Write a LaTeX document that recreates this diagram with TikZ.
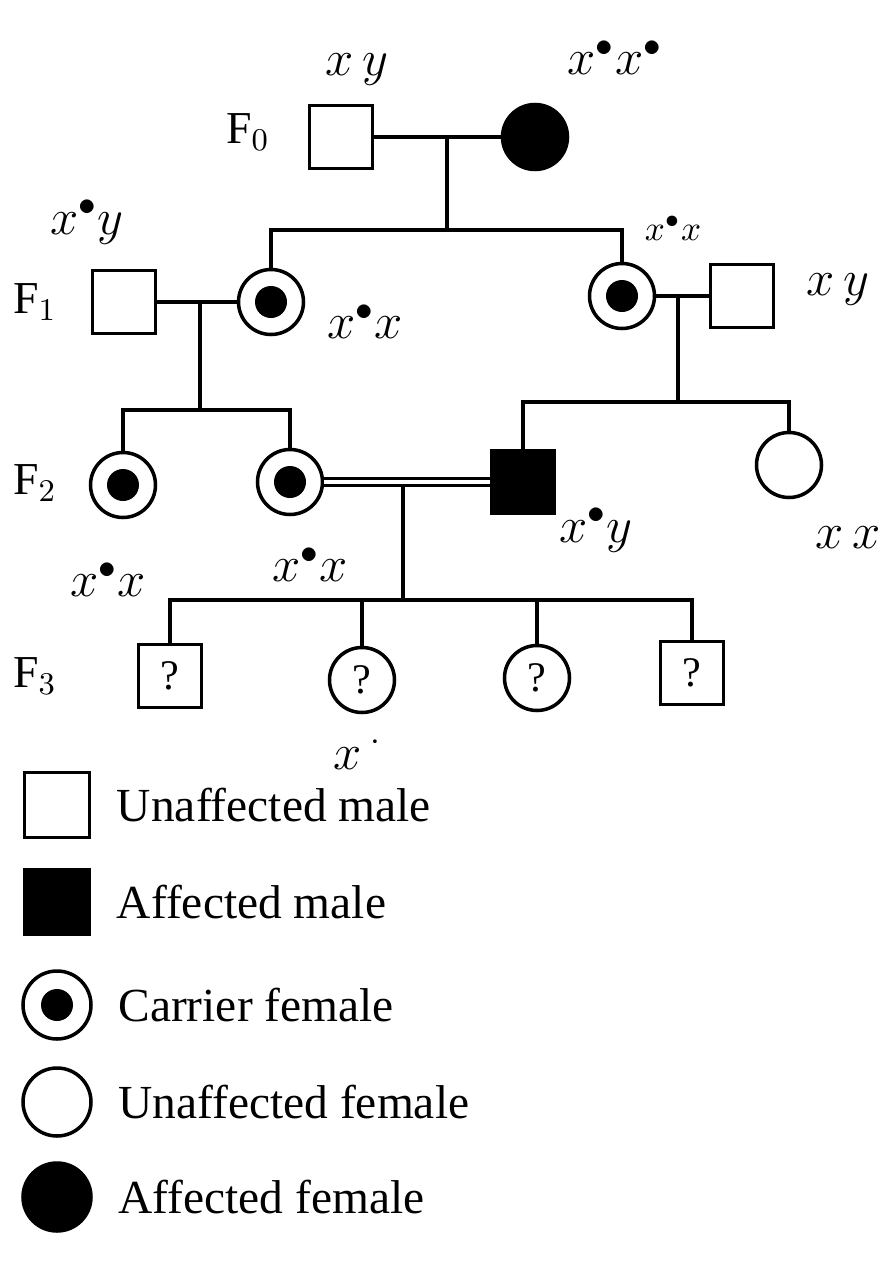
\documentclass[tikz,border=0pt]{standalone}
\usepackage{fontspec}
\setmainfont{Liberation Serif}
\usetikzlibrary{positioning}

\tikzset{
    male/.style={draw, line width=1pt, minimum size=6.3mm, inner sep=0pt, font=\large},
    female/.style={circle, draw, line width=1pt, minimum size=6.5mm, inner sep=0pt, font=\large},
    affected/.style={fill=black},
    carrier/.style={female, path picture={\fill (path picture bounding box.center) circle (1.6mm);}},
    link/.style={line width=1pt},
    coppia/.style={line width=0.8pt, double, double distance=0.45mm},
    gen/.style={font=\fontsize{13}{15}\selectfont},
    geno/.style={font=\Large, inner sep=0pt},
    voce/.style={right=2.5mm, font=\fontsize{13.5}{16}\selectfont, inner sep=0pt},
}

\begin{document}
\begin{tikzpicture}[x=0.1mm, y=-0.1mm]

        \useasboundingbox (0,0) rectangle (895,1263);

        % ==========================================
        % GENERAZIONE F0
        % ==========================================
        \node[gen] (g0) at (248,132) {F$_0$};
        \node[male] (f0m) at (341,137) {};
        \node[female, affected] (f0f) at (535,137) {};
        \coordinate (f0mid) at (447,137);
        \coordinate (f0drop) at (447,230);

        \draw[link] (f0m) -- (f0f);
        \draw[link] (f0mid) -- (f0drop);

        % ==========================================
        % GENERAZIONE F1
        % ==========================================
        \node[gen] (g1) at (35,302) {F$_1$};
        \node[male] (f1h1) at (124,302) {};
        \node[carrier] (f1a) at (271,302) {};
        \node[carrier] (f1b) at (622,296) {};
        \node[male] (f1h2) at (742,296) {};

        % fratelli di F1
        \draw[link] (f1a.north) |- (f0drop) -| (f1b.north);

        % coppie di F1
        \coordinate (f1lmid) at (200,302);
        \coordinate (f1ldrop) at (200,410);
        \coordinate (f1rmid) at (678,296);
        \coordinate (f1rdrop) at (678,402);
        \draw[link] (f1h1) -- (f1a);
        \draw[link] (f1b) -- (f1h2);
        \draw[link] (f1lmid) -- (f1ldrop);
        \draw[link] (f1rmid) -- (f1rdrop);

        % ==========================================
        % GENERAZIONE F2
        % ==========================================
        \node[gen] (g2) at (35,483) {F$_2$};
        \node[carrier] (f2a) at (123,485) {};
        \node[carrier] (f2b) at (290,482) {};
        \node[male, affected] (f2m) at (523,482) {};
        \node[female] (f2f) at (789,465) {};

        \draw[link] (f2a.north) |- (f1ldrop) -| (f2b.north);
        \draw[link] (f2m.north) |- (f1rdrop) -| (f2f.north);

        % matrimonio doppio
        \draw[coppia] (f2b) -- (f2m);
        \coordinate (f2mid) at (403,484);
        \coordinate (f2drop) at (403,600);
        \draw[link] (f2mid) -- (f2drop);

        % ==========================================
        % GENERAZIONE F3
        % ==========================================
        \node[gen] (g3) at (35,676) {F$_3$};
        \node[male] (f3a) at (170,676) {?};
        \node[female] (f3b) at (362,680) {?};
        \node[female] (f3c) at (537,678) {?};
        \node[male] (f3d) at (692,673) {?};

        \draw[link] (f3a.north) |- (f2drop) -| (f3d.north);
        \draw[link] (f3b.north) -- (f3b.north |- f2drop);
        \draw[link] (f3c.north) -- (f3c.north |- f2drop);

        % ==========================================
        % GENOTIPI (scritti a mano)
        % ==========================================
        \node[geno] (x0m) at (357,70) {$x\,y$};
        \node[geno] (x0f) at (615,58) {$x^{\bullet}x^{\bullet}$};
        \node[geno] (x1h1) at (87,222) {$x^{\bullet}y$};
        \node[geno] (x1a) at (365,322) {$x^{\bullet}x$};
        \node[geno, font=\normalsize] (x1b) at (673,228) {$x^{\bullet}x$};
        \node[geno] (x1h2) at (838,290) {$x\,y$};
        \node[geno] (x2a) at (108,580) {$x^{\bullet}x$};
        \node[geno] (x2b) at (310,565) {$x^{\bullet}x$};
        \node[geno] (x2m) at (596,530) {$x^{\bullet}y$};
        \node[geno] (x2f) at (848,538) {$x\,x$};
        \node[geno] (x3b) at (358,752) {$x\,^{\cdot}$};

        % ==========================================
        % LEGENDA
        % ==========================================
        \node[male, minimum size=6.5mm] (l1) at (57,805) {};
        \node[male, affected, minimum size=6.5mm] (l2) at (57,902) {};
        \node[carrier, minimum size=6.8mm] (l3) at (57,1005) {};
        \node[female, minimum size=6.8mm] (l4) at (57,1102) {};
        \node[female, affected, minimum size=6.8mm] (l5) at (57,1197) {};

        \node[voce] at (l1.east) {Unaffected male};
        \node[voce] at (l2.east) {Affected male};
        \node[voce] at (l3.east) {Carrier female};
        \node[voce] at (l4.east) {Unaffected female};
        \node[voce] at (l5.east) {Affected female};

    \end{tikzpicture}
\end{document}
